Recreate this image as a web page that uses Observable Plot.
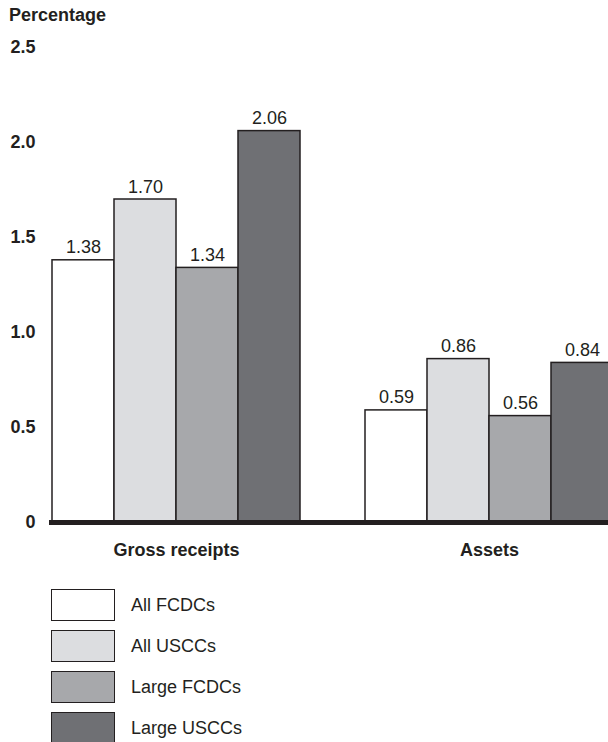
<!DOCTYPE html>
<html>
<head>
<meta charset="utf-8">
<script src="https://cdn.jsdelivr.net/npm/d3@7"></script>
<script src="https://cdn.jsdelivr.net/npm/@observablehq/plot@0.6"></script>
<style>
  html, body { margin: 0; padding: 0; overflow: hidden; background: #fff; }
  body { font-family: "Liberation Sans", Arial, Helvetica, sans-serif; color: #231f20; width: 608px; }
  #title { height: 30px; line-height: 30px; padding-left: 9px; font-weight: bold; font-size: 18px; }
  #chart { width: 608px; overflow: hidden; }
  #chart svg { display: block; }
  #legend { margin-top: 9px; padding-left: 51px; }
  .row { display: flex; align-items: center; height: 32px; margin-bottom: 9px; }
  .box { width: 64px; height: 32px; box-sizing: border-box; border: 1.5px solid #231f20; }
  .lbl { margin-left: 16px; font-size: 18px; }
</style>
</head>
<body>
<div id="title">Percentage</div>
<div id="chart"></div>
<div id="legend"></div>
<script>
// Percentages by measure and company group
const categories = ["Gross receipts", "Assets"];
const series = ["All FCDCs", "All USCCs", "Large FCDCs", "Large USCCs"];
const grossReceipts = [1.38, 1.70, 1.34, 2.06];
const assets = [0.59, 0.86, 0.56, 0.84];
const yTicks = [0, 0.5, 1.0, 1.5, 2.0, 2.5];
const yTickLabels = ["0", "0.5", "1.0", "1.5", "2.0", "2.5"];
const fills = ["#ffffff", "#dcdde0", "#a7a8ab", "#6f7074"];

const rows = [
  ...series.map((s, i) => ({category: categories[0], series: s, value: grossReceipts[i]})),
  ...series.map((s, i) => ({category: categories[1], series: s, value: assets[i]}))
];

const ink = "#231f20";

const chart = Plot.plot({
  width: 615,
  height: 550,
  marginLeft: 51,
  marginRight: 0,
  marginTop: 17,
  marginBottom: 58,
  style: {fontFamily: "'Liberation Sans', Arial, Helvetica, sans-serif", color: ink, background: "#fff", maxWidth: "none"},
  fx: {domain: categories, paddingInner: 0.2, paddingOuter: 0, label: null},
  x: {domain: series, padding: 0, axis: null},
  y: {domain: [0, 2.5], label: null},
  color: {domain: series, range: fills},
  marks: [
    Plot.barY(rows, {fx: "category", x: "series", y: "value", fill: "series", stroke: ink, strokeWidth: 1.5}),
    Plot.text(rows, {fx: "category", x: "series", y: "value", text: d => d.value.toFixed(2), lineAnchor: "bottom", dy: -7, fontSize: 18, fill: ink}),
    // continuous zero baseline across both groups (y = 0 is the frame's bottom edge)
    Plot.frame({anchor: "bottom", stroke: ink, strokeWidth: 5, facet: "super"}),
    Plot.axisY({ticks: yTicks, tickFormat: (d) => yTickLabels[yTicks.indexOf(d)], tickSize: 0, tickPadding: 16, fontSize: 18, fontWeight: "bold", label: null}),
    Plot.axisFx({anchor: "bottom", tickSize: 0, tickPadding: 21, fontSize: 18, fontWeight: "bold", label: null})
  ]
});
document.getElementById("chart").appendChild(chart);

// Legend: one swatch per company group
const legend = d3.select("#legend");
series.forEach((s, i) => {
  const row = legend.append("div").attr("class", "row");
  row.append("div").attr("class", "box").style("background", fills[i]);
  row.append("div").attr("class", "lbl").text(s);
});
</script>
</body>
</html>
